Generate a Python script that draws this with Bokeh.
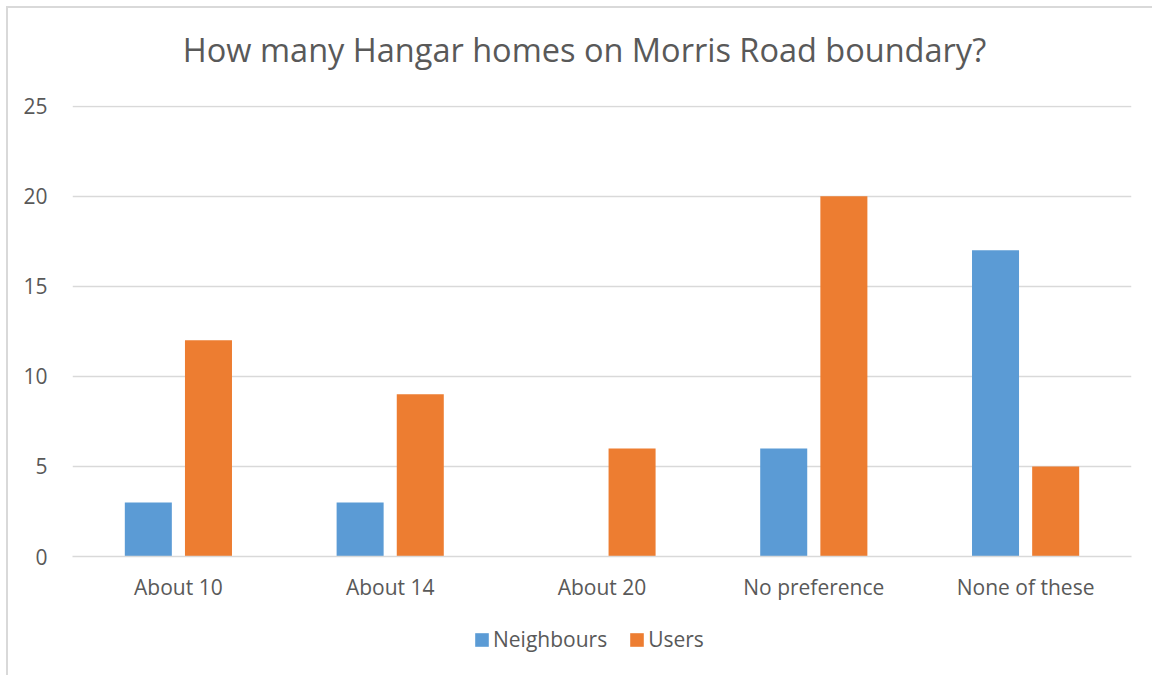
from bokeh.plotting import figure
from bokeh.layouts import column
from bokeh.models import FactorRange, Range1d, FixedTicker, Legend, LegendItem, ColumnDataSource, Label
from bokeh.transform import dodge
from bokeh.embed import file_html
from bokeh.resources import INLINE

categories = ["About 10", "About 14", "About 20", "No preference", "None of these"]
neighbours = [3, 3, 0, 6, 17]
users = [12, 9, 6, 20, 5]
y_ticks = [0, 5, 10, 15, 20, 25]
series_names = ["Neighbours", "Users"]
title_text = "How many Hangar homes on Morris Road boundary?"

FONT = "Open Sans"
TXT = "#595959"
GRID = "#d9d9d9"
BLUE = "#5B9BD5"
ORANGE = "#ED7D31"

W = 1144
FL, FR = 64, 1123  # frame edges (px from figure left), shared by all strips


def strip(height, yr):
    f = figure(width=W, height=height, output_backend="svg", toolbar_location=None,
               x_range=Range1d(FL, FR), y_range=Range1d(*yr),
               min_border_left=FL, min_border_right=W - FR,
               min_border_top=0, min_border_bottom=0)
    f.outline_line_color = None
    f.axis.visible = False
    f.grid.visible = False
    f.border_fill_color = "white"
    f.background_fill_color = "white"
    return f


# title strip
tp = strip(85, (0, 85))
tp.add_layout(Label(x=576, y=44, text=title_text, text_align="center",
                    text_baseline="alphabetic", text_font=FONT, text_font_size="32.5px",
                    text_color=TXT))

# main chart
src = ColumnDataSource(dict(cat=categories, neighbours=neighbours, users=users))
p = figure(width=W, height=525, output_backend="svg", toolbar_location=None,
           x_range=FactorRange(*categories, range_padding=0), y_range=Range1d(0, 25.03),
           min_border_left=FL, min_border_right=W - FR, min_border_top=12, min_border_bottom=62)
p.outline_line_color = None
p.background_fill_color = "white"
p.border_fill_color = "white"

p.vbar(x=dodge("cat", -0.142, range=p.x_range), top="neighbours", width=0.222,
       source=src, fill_color=BLUE, line_color=None)
p.vbar(x=dodge("cat", 0.142, range=p.x_range), top="users", width=0.222,
       source=src, fill_color=ORANGE, line_color=None)

p.xgrid.grid_line_color = None
p.ygrid.grid_line_color = GRID
p.ygrid.grid_line_width = 1.5
p.yaxis.ticker = FixedTicker(ticks=y_ticks)
p.yaxis.axis_line_color = None
p.yaxis.major_tick_line_color = None
p.yaxis.minor_tick_line_color = None
p.yaxis.major_label_standoff = 19
p.xaxis.axis_line_color = GRID
p.xaxis.axis_line_width = 1.5
p.xaxis.major_tick_line_color = None
p.xaxis.minor_tick_line_color = None
p.xaxis.major_label_standoff = 10
for ax in (p.xaxis, p.yaxis):
    ax.major_label_text_font = FONT
    ax.major_label_text_font_size = "21px"
    ax.major_label_text_color = TXT

# legend strip (proxy glyphs of zero height, only their legend swatches show)
lg = strip(57, (0, 1))
proxy = ColumnDataSource(dict(x=[100], top=[0]))
g1 = lg.vbar(x="x", top="top", width=1, source=proxy, fill_color=BLUE, line_color=None)
g2 = lg.vbar(x="x", top="top", width=1, source=proxy, fill_color=ORANGE, line_color=None)
legend = Legend(items=[LegendItem(label=series_names[0], renderers=[g1]),
                       LegendItem(label=series_names[1], renderers=[g2])],
                orientation="horizontal", location=(401, 22),
                glyph_width=17, glyph_height=17, label_text_font=FONT,
                label_text_font_size="21px", label_text_color=TXT,
                border_line_color=None, background_fill_alpha=0, spacing=21,
                label_standoff=3, padding=0, margin=0)
lg.add_layout(legend)

layout = column(tp, p, lg, spacing=0)
layout.styles = {"margin-left": "6px", "margin-top": "6px",
                 "border-left": "2px solid #d9d9d9", "border-top": "2px solid #d9d9d9"}

open("out.html", "w").write(file_html(layout, INLINE))
